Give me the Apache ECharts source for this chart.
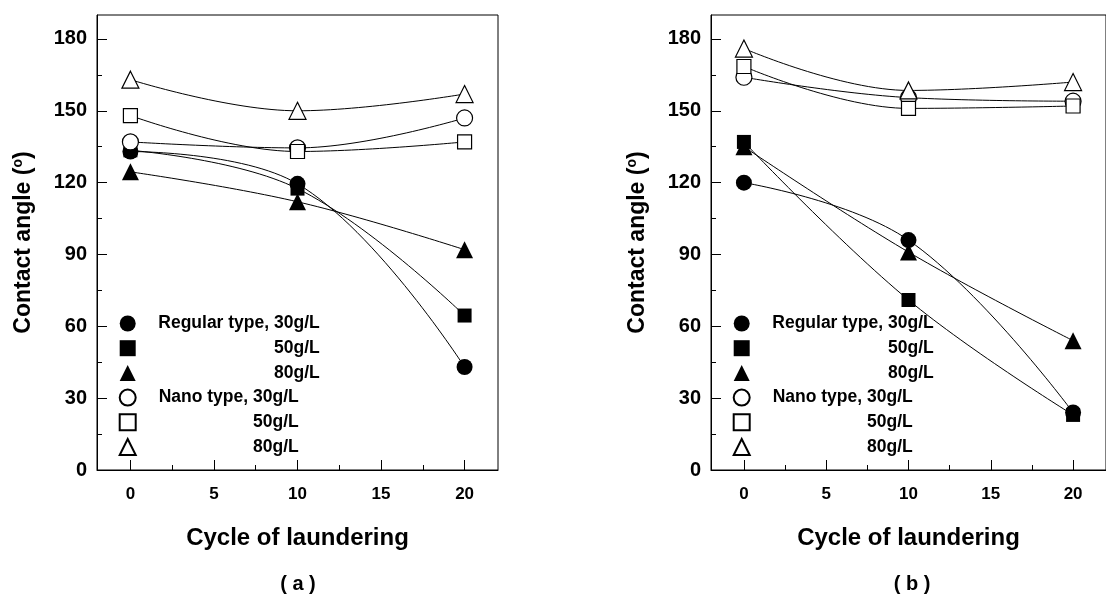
<!DOCTYPE html>
<html>
<head>
<meta charset="utf-8">
<script src="https://cdn.jsdelivr.net/npm/echarts@6/dist/echarts.min.js"></script>
<style>
  html, body { margin: 0; padding: 0; background: #fff; }
  #chart { width: 1106px; height: 595px; }
</style>
</head>
<body>
<div id="chart"></div>
<script>
const cycles = [0, 10, 20];

// panel (a)
const aRegular30 = [133, 119.5, 43];
const aRegular50 = [133.5, 117.5, 64.5];
const aRegular80 = [124.5, 112, 92];
const aNano30 = [137, 134.5, 147];
const aNano50 = [148, 133, 137];
const aNano80 = [163, 150, 157];

// panel (b)
const bRegular30 = [120, 96, 24];
const bRegular50 = [137, 71, 23];
const bRegular80 = [135, 91, 54];
const bNano30 = [164, 155.5, 154];
const bNano50 = [168.5, 151, 152];
const bNano80 = [176, 158.5, 162];

const xTicks = [0, 5, 10, 15, 20];
const xMinorTicks = [2.5, 7.5, 12.5, 17.5];
const yTicks = [0, 30, 60, 90, 120, 150, 180];
const yMinorTicks = [15, 45, 75, 105, 135, 165];

const seriesKeys = ['R30', 'R50', 'R80', 'N30', 'N50', 'N80'];
const legendLabels = {
  R30: 'Regular type, 30g/L',
  R50: '50g/L',
  R80: '80g/L',
  N30: 'Nano type, 30g/L',
  N50: '50g/L',
  N80: '80g/L'
};
const panelTags = ['( a )', '( b )'];

const FONT = '"Liberation Sans", Arial, sans-serif';
const chart = echarts.init(document.getElementById('chart'));

// marker look for each series
const markers = {
  R30: { symbol: 'circle', size: 16, fill: '#000' },
  R50: { symbol: 'rect', size: 14, fill: '#000' },
  R80: { symbol: 'triangle', size: 17, fill: '#000' },
  N30: { symbol: 'circle', size: 16, fill: '#fff' },
  N50: { symbol: 'rect', size: 14, fill: '#fff' },
  N80: { symbol: 'triangle', size: 17, fill: '#fff' }
};

const panels = [
  { left: 97, data: { R30: aRegular30, R50: aRegular50, R80: aRegular80, N30: aNano30, N50: aNano50, N80: aNano80 } },
  { left: 711, data: { R30: bRegular30, R50: bRegular50, R80: bRegular80, N30: bNano30, N50: bNano50, N80: bNano80 } }
];

const grid = [];
const xAxis = [];
const yAxis = [];
const series = [];
const legend = [];
const graphic = [];

panels.forEach((p, i) => {
  grid.push({
    left: p.left, top: 15, width: 401, height: 455,
    show: true, borderColor: '#000', borderWidth: 1, backgroundColor: 'transparent'
  });

  // major x axis
  xAxis.push({
    type: 'value', gridIndex: i, min: -2, max: 22, position: 'bottom',
    axisLine: { onZero: false, lineStyle: { color: '#000', width: 1 } },
    axisTick: { inside: true, length: 10, customValues: xTicks, lineStyle: { color: '#000', width: 1 } },
    axisLabel: { customValues: xTicks, margin: 16, color: '#000', fontSize: 17, fontWeight: 'bold', fontFamily: FONT },
    splitLine: { show: false },
    name: 'Cycle of laundering', nameLocation: 'middle', nameGap: 56,
    nameTextStyle: { color: '#000', fontSize: 24, fontWeight: 'bold', fontFamily: FONT }
  });
  // minor x ticks
  xAxis.push({
    type: 'value', gridIndex: i, min: -2, max: 22, position: 'bottom',
    axisLine: { show: false, onZero: false },
    axisTick: { inside: true, length: 5, customValues: xMinorTicks, lineStyle: { color: '#000', width: 1 } },
    axisLabel: { show: false },
    splitLine: { show: false }
  });

  yAxis.push({
    type: 'value', gridIndex: i, min: 0, max: 190, interval: 30, position: 'left',
    axisLine: { show: true, onZero: false, lineStyle: { color: '#000', width: 1 } },
    axisTick: { show: true, inside: true, length: 10, customValues: yTicks, lineStyle: { color: '#000', width: 1 } },
    axisLabel: { customValues: yTicks, margin: 10, color: '#000', fontSize: 20, fontWeight: 'bold', fontFamily: FONT },
    splitLine: { show: false },
    name: '{t|Contact angle (}{s|o}{t|)}', nameLocation: 'middle', nameGap: 60, nameRotate: 90,
    nameTextStyle: {
      color: '#000', fontFamily: FONT, fontWeight: 'bold', fontSize: 23,
      rich: {
        t: { color: '#000', fontFamily: FONT, fontWeight: 'bold', fontSize: 23, lineHeight: 26 },
        s: { color: '#000', fontFamily: FONT, fontWeight: 'bold', fontSize: 14, lineHeight: 14, verticalAlign: 'top' }
      }
    }
  });
  yAxis.push({
    type: 'value', gridIndex: i, min: 0, max: 190, position: 'left',
    axisLine: { show: false, onZero: false },
    axisTick: { show: true, inside: true, length: 5, customValues: yMinorTicks, lineStyle: { color: '#000', width: 1 } },
    axisLabel: { show: false },
    splitLine: { show: false }
  });

  seriesKeys.forEach((k) => {
    const m = markers[k];
    series.push({
      name: k,
      type: 'line',
      xAxisIndex: i * 2,
      yAxisIndex: i * 2,
      data: cycles.map((c, j) => [c, p.data[k][j]]),
      smooth: 0.4,
      symbol: m.symbol,
      symbolSize: m.size,
      showAllSymbol: true,
      lineStyle: { color: '#000', width: 1 },
      itemStyle: { color: m.fill, borderColor: '#000', borderWidth: m.fill === '#fff' ? 1.2 : 0, opacity: 1 },
      emphasis: { disabled: true },
      animation: false
    });
  });

  legend.push({
    orient: 'vertical',
    left: p.left + 21.7, top: 314.5,
    padding: 0,
    itemWidth: 16, itemHeight: 16, itemGap: 6.7,
    selectedMode: false,
    data: seriesKeys.map((k) => ({ name: k, icon: markers[k].symbol })),
    formatter: (name) => (name[0] === 'R' ? '{r|' : '{n|') + legendLabels[name] + '}',
    textStyle: {
      color: '#000', fontFamily: FONT, fontWeight: 'bold', fontSize: 17.5, lineHeight: 15,
      rich: {
        r: { color: '#000', fontFamily: FONT, fontWeight: 'bold', fontSize: 17.5, lineHeight: 15, width: 162, align: 'right', padding: [0, 0, 0, 17] },
        n: { color: '#000', fontFamily: FONT, fontWeight: 'bold', fontSize: 17.5, lineHeight: 15, width: 141, align: 'right', padding: [0, 0, 0, 17] }
      }
    }
  });

  graphic.push({
    type: 'text',
    x: p.left + 201, y: 584,
    style: {
      text: panelTags[i], fill: '#000', font: 'bold 20px ' + FONT,
      textAlign: 'center', textVerticalAlign: 'middle'
    }
  });
});

chart.setOption({
  backgroundColor: '#fff',
  animation: false,
  grid: grid,
  xAxis: xAxis,
  yAxis: yAxis,
  legend: legend,
  series: series,
  graphic: graphic
});
</script>
</body>
</html>
